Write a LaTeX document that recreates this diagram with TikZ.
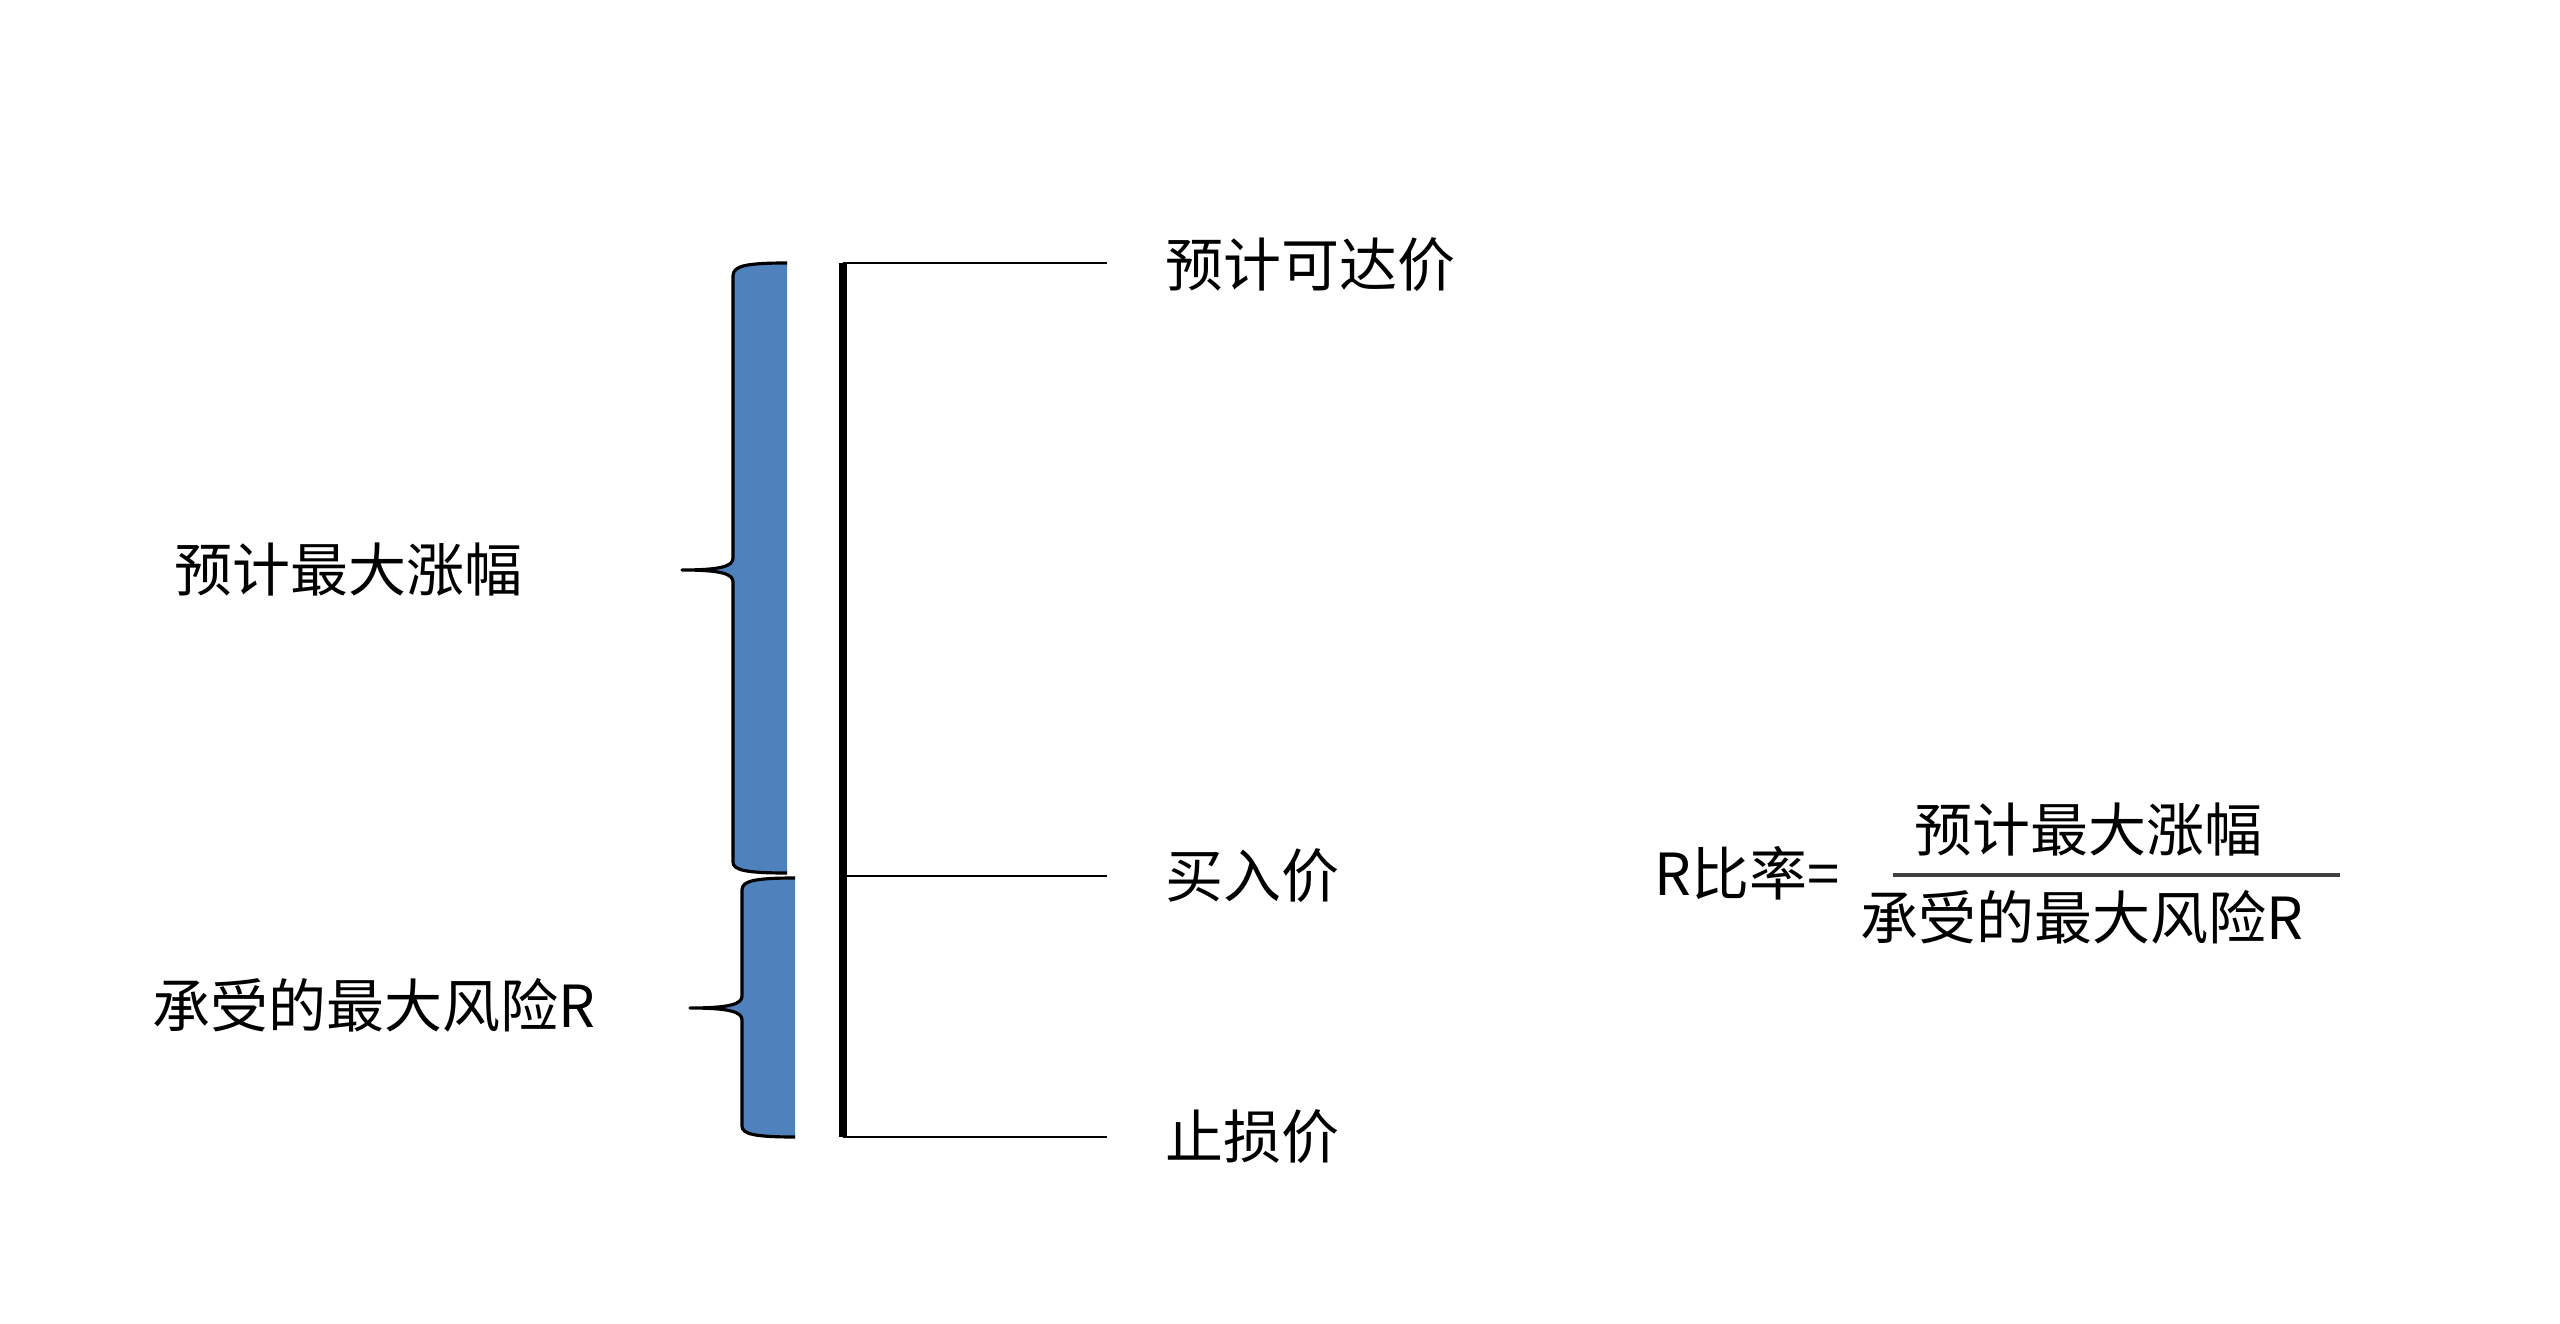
\documentclass[tikz,border=0pt]{standalone}
\usepackage{fontspec}
\newfontfamily\cjk{Noto Sans CJK SC}
\usetikzlibrary{positioning,calc}
\definecolor{braceblue}{HTML}{4F81BD}
\tikzset{
  lbl/.style={font=\cjk\fontsize{16.5}{20}\selectfont, inner sep=0pt, anchor=west},
  axis/.style={line width=2.3pt},
  level/.style={line width=0.6pt, shorten >=5.8mm},
  bracefill/.style={fill=braceblue},
  braceline/.style={line width=0.9pt, line join=round},
  fracline/.style={line width=0.9pt, draw=black!75},
}
\begin{document}
\begin{tikzpicture}[x=0.1mm, y=-0.1mm]
  \useasboundingbox (0,0) rectangle (2560,1324);
  % price axis
  \coordinate (axtop) at (843,263);
  \coordinate (axmid) at (843,876);
  \coordinate (axbot) at (843,1137);
  \draw[axis] (axtop) -- (axbot);
  % price levels
  \node[lbl] (tp) at (1165,265) {预计可达价};
  \node[lbl] (buy) at (1165,876) {买入价};
  \node[lbl] (sl) at (1165,1137) {止损价};
  \draw[level] (axtop) -- (axtop -| tp.west);
  \draw[level] (axmid) -- (axmid -| buy.west);
  \draw[level] (axbot) -- (axbot -| sl.west);
  % upper brace: expected gain
  \fill[bracefill] (787,263) .. controls (745,263) and (733,266) .. (733,276)
    -- (733,558) .. controls (733,566) and (722,570) .. (682,570)
    .. controls (722,570) and (733,574) .. (733,582)
    -- (733,862) .. controls (733,870) and (745,873) .. (787,873) -- cycle;
  \draw[braceline] (787,263) .. controls (745,263) and (733,266) .. (733,276)
    -- (733,558) .. controls (733,566) and (722,570) .. (682,570)
    .. controls (722,570) and (733,574) .. (733,582)
    -- (733,862) .. controls (733,870) and (745,873) .. (787,873);
  % lower brace: risk
  \fill[bracefill] (795,878) .. controls (754,878) and (742,881) .. (742,890)
    -- (742,996) .. controls (742,1004) and (730,1008) .. (690,1008)
    .. controls (730,1008) and (742,1012) .. (742,1020)
    -- (742,1126) .. controls (742,1134) and (754,1137) .. (795,1137) -- cycle;
  \draw[braceline] (795,878) .. controls (754,878) and (742,881) .. (742,890)
    -- (742,996) .. controls (742,1004) and (730,1008) .. (690,1008)
    .. controls (730,1008) and (742,1012) .. (742,1020)
    -- (742,1126) .. controls (742,1134) and (754,1137) .. (795,1137);
  \node[lbl] (gain) at (174,570) {预计最大涨幅};
  \node[lbl] (risk) at (152,1005) {承受的最大风险R};
  % ratio
  \node[lbl] (ratio) at (1654,873) {R比率=};
  \node[lbl] (num) at (1914,830) {预计最大涨幅};
  \node[lbl] (den) at (1860,917) {承受的最大风险R};
  \coordinate (fl) at (1893,875);
  \draw[fracline] (fl) -- ++(447,0);
\end{tikzpicture}
\end{document}
